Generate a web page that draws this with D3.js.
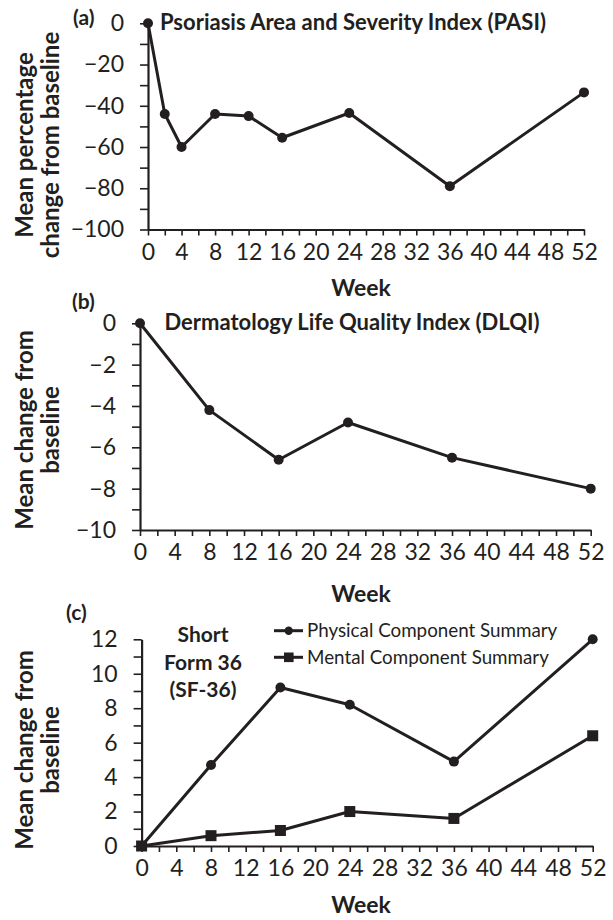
<!DOCTYPE html>
<html>
<head>
<meta charset="utf-8">
<script src="https://cdn.jsdelivr.net/npm/d3@7"></script>
<style>
  body { margin: 0; background: #fff; }
  svg { font-family: Lato, "Open Sans", sans-serif; }
</style>
</head>
<body>
<svg id="chart" width="613" height="920"></svg>
<script>
const ink = "#231f20";

// x axis: marks every 2 weeks, labels every 4
const weekTicks = d3.range(0, 53, 2);
const weekLabels = [0, 4, 8, 12, 16, 20, 24, 28, 32, 36, 40, 44, 48, 52];

// (a) PASI, mean % change
const pasiWeeks = [0, 2, 4, 8, 12, 16, 24, 36, 52];
const pasiChange = [0, -44, -60, -44, -45, -55.5, -43.5, -79, -33.5];
const pasiTicks = [0, -20, -40, -60, -80, -100];
const pasiMinor = [-10, -30, -50, -70, -90];

// (b) DLQI, mean change
const dlqiWeeks = [0, 8, 16, 24, 36, 52];
const dlqiChange = [0, -4.2, -6.6, -4.8, -6.5, -8];
const dlqiTicks = [0, -2, -4, -6, -8, -10];
const dlqiMinor = [-1, -3, -5, -7, -9];

// (c) SF-36, mean change
const sfWeeks = [0, 8, 16, 24, 36, 52];
const physical = [0, 4.7, 9.2, 8.2, 4.9, 12];
const mental = [0, 0.6, 0.9, 2, 1.6, 6.4];
const sfTicks = [0, 2, 4, 6, 8, 10, 12];
const sfMinor = [1, 3, 5, 7, 9, 11];

const svg = d3.select("#chart");
const fmt = d3.format("d");


function panel({x0, x1, yTop, yBottom, domain, ticks, minor, tag, tagX, tagY,
                ytitle, ytitleY, weekY}) {
  const x = d3.scaleLinear().domain([0, 52]).range([x0, x1]);
  const y = d3.scaleLinear().domain(domain).range([yBottom, yTop]);
  const g = svg.append("g");

  const xaxis = g.append("g")
    .attr("transform", `translate(0,${y(d3.min(domain))})`)
    .call(d3.axisBottom(x)
      .tickValues(weekTicks)
      .tickSizeInner(6)
      .tickSizeOuter(0)
      .tickPadding(8)
      .tickFormat(d => weekLabels.includes(d) ? fmt(d) : ""));

  const yaxis = g.append("g")
    .attr("transform", `translate(${x0},0)`)
    .call(d3.axisLeft(y)
      .tickValues(ticks.concat(minor))
      .tickSizeInner(8)
      .tickSizeOuter(0)
      .tickPadding(16)
      .tickFormat(d => ticks.includes(d) ? fmt(d) : ""));

  for (const ax of [xaxis, yaxis]) {
    ax.select(".domain").attr("stroke", ink).attr("stroke-width", 2.2);
    ax.selectAll(".tick line").attr("stroke", ink).attr("stroke-width", 1.6);
    ax.selectAll(".tick text")
      .attr("fill", ink)
      .style("font-size", "23px")
      .style("font-family", "Lato, sans-serif");
  }

  g.append("text")
    .attr("x", tagX).attr("y", tagY)
    .attr("fill", ink)
    .style("font-size", "21px").style("font-weight", "bold")
    .text(tag);

  const yt = g.append("text")
    .attr("transform", `translate(0,${ytitleY}) rotate(-90)`)
    .attr("text-anchor", "middle")
    .attr("fill", ink)
    .style("font-size", "24px").style("font-weight", "bold");
  ytitle.forEach((line, i) => {
    yt.append("tspan").attr("x", 0).attr("y", 33 + i * 26).text(line);
  });

  g.append("text")
    .attr("x", 361).attr("y", weekY)
    .attr("text-anchor", "middle")
    .attr("fill", ink)
    .style("font-size", "23px").style("font-weight", "bold")
    .text("Week");

  return {x, y, g};
}

function series(p, weeks, values, marker) {
  const pts = weeks.map((w, i) => ({x: w, y: values[i]}));
  const line = d3.line().x(d => p.x(d.x)).y(d => p.y(d.y));
  p.g.append("path")
    .datum(pts)
    .attr("d", line)
    .attr("fill", "none")
    .attr("stroke", ink)
    .attr("stroke-width", 3)
    .attr("stroke-linejoin", "round");

  if (marker === "square") {
    p.g.selectAll(null).data(pts).join("rect")
      .attr("x", d => p.x(d.x) - 5.5).attr("y", d => p.y(d.y) - 5.5)
      .attr("width", 11).attr("height", 11)
      .attr("fill", ink);
  } else {
    p.g.selectAll(null).data(pts).join("circle")
      .attr("cx", d => p.x(d.x)).attr("cy", d => p.y(d.y))
      .attr("r", 5)
      .attr("fill", ink);
  }
}


// (a)
const pa = panel({
  x0: 148, x1: 584, yTop: 23.3, yBottom: 229.5, domain: [-100, 0],
  ticks: pasiTicks, minor: pasiMinor, tag: "(a)", tagX: 73, tagY: 25,
  ytitle: ["Mean percentage", "change from baseline"], ytitleY: 145, weekY: 296,
});
series(pa, pasiWeeks, pasiChange, "circle");
pa.g.append("text")
  .attr("x", 353).attr("y", 30)
  .attr("text-anchor", "middle")
  .attr("fill", ink)
  .style("font-size", "22px").style("font-weight", "bold")
  .text("Psoriasis Area and Severity Index (PASI)");

// (b)
const pb = panel({
  x0: 140, x1: 590.7, yTop: 323.3, yBottom: 530, domain: [-10, 0],
  ticks: dlqiTicks, minor: dlqiMinor, tag: "(b)", tagX: 72, tagY: 309,
  ytitle: ["Mean change from", "baseline"], ytitleY: 430, weekY: 602,
});
series(pb, dlqiWeeks, dlqiChange, "circle");
pb.g.append("text")
  .attr("x", 352).attr("y", 330)
  .attr("text-anchor", "middle")
  .attr("fill", ink)
  .style("font-size", "22px").style("font-weight", "bold")
  .text("Dermatology Life Quality Index (DLQI)");

// (c)
const pc = panel({
  x0: 141.6, x1: 592.7, yTop: 639.3, yBottom: 846, domain: [0, 12],
  ticks: sfTicks, minor: sfMinor, tag: "(c)", tagX: 66, tagY: 620,
  ytitle: ["Mean change from", "baseline"], ytitleY: 750, weekY: 913,
});
series(pc, sfWeeks, physical, "circle");
series(pc, sfWeeks, mental, "square");

pc.g.append("text")
  .attr("text-anchor", "middle")
  .attr("fill", ink)
  .style("font-size", "21px").style("font-weight", "bold")
  .selectAll("tspan")
  .data(["Short", "Form 36", "(SF-36)"])
  .join("tspan")
  .attr("x", 203)
  .attr("y", (d, i) => 642 + i * 27.5)
  .text(d => d);

// legend
const legendNames = ["Physical Component Summary", "Mental Component Summary"];
const legendMarks = ["circle", "square"];
const leg = pc.g.selectAll("g.legend")
  .data(legendNames)
  .join("g")
  .attr("class", "legend")
  .attr("transform", (d, i) => `translate(274,${630.7 + i * 26.6})`);
leg.append("line")
  .attr("x1", 0).attr("x2", 29)
  .attr("stroke", ink).attr("stroke-width", 3);
leg.filter((d, i) => legendMarks[i] === "circle").append("circle")
  .attr("cx", 14.7).attr("r", 4.2).attr("fill", ink);
leg.filter((d, i) => legendMarks[i] === "square").append("rect")
  .attr("x", 10).attr("y", -4.8).attr("width", 9.6).attr("height", 9.6)
  .attr("fill", ink);
leg.append("text")
  .attr("x", 33).attr("y", 6.5)
  .attr("fill", ink)
  .style("font-size", "18.8px")
  .text(d => d);
</script>
</body>
</html>
